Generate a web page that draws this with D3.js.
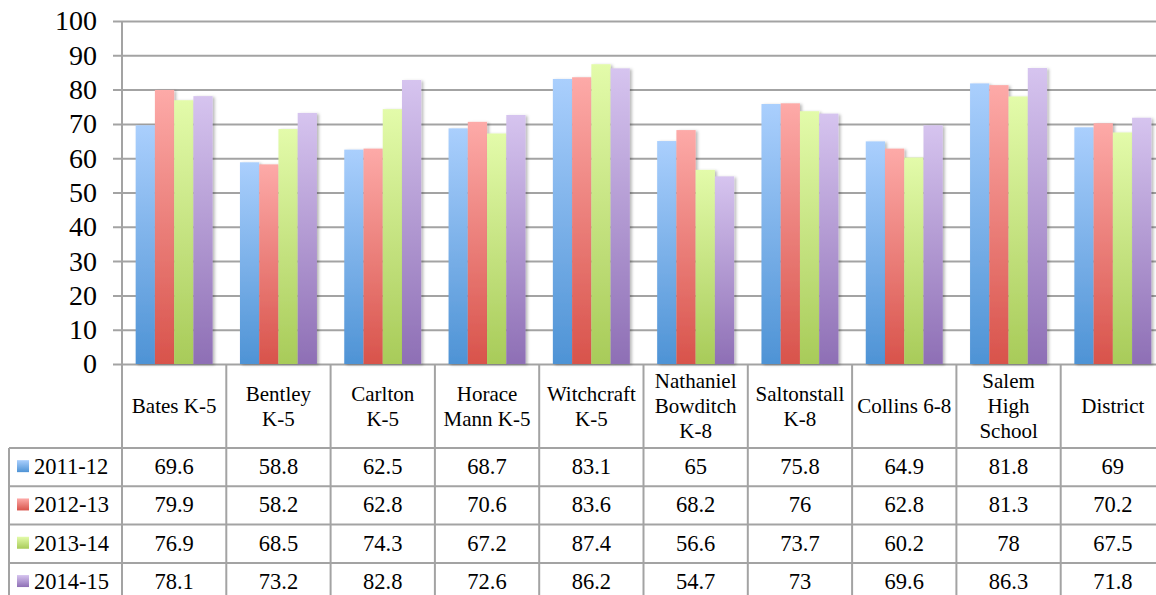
<!DOCTYPE html>
<html>
<head>
<meta charset="utf-8">
<script src="https://cdn.jsdelivr.net/npm/d3@7/dist/d3.min.js"></script>
<style>
  body { margin: 0; background: #fff; }
  svg { display: block; font-family: "Liberation Serif", "DejaVu Serif", serif; }
</style>
</head>
<body>
<div id="chart"></div>
<script>
// schools along the x axis (label lines for the table header)
var categories = ['Bates K-5', 'Bentley K-5', 'Carlton K-5', 'Horace Mann K-5', 'Witchcraft K-5',
  'Nathaniel Bowditch K-8', 'Saltonstall K-8', 'Collins 6-8', 'Salem High School', 'District'];
var categoryLines = [['Bates K-5'], ['Bentley', 'K-5'], ['Carlton', 'K-5'], ['Horace', 'Mann K-5'],
  ['Witchcraft', 'K-5'], ['Nathaniel', 'Bowditch', 'K-8'], ['Saltonstall', 'K-8'], ['Collins 6-8'],
  ['Salem', 'High', 'School'], ['District']];
var seriesNames = ['2011-12', '2012-13', '2013-14', '2014-15'];
var values2011 = [69.6, 58.8, 62.5, 68.7, 83.1, 65, 75.8, 64.9, 81.8, 69];
var values2012 = [79.9, 58.2, 62.8, 70.6, 83.6, 68.2, 76, 62.8, 81.3, 70.2];
var values2013 = [76.9, 68.5, 74.3, 67.2, 87.4, 56.6, 73.7, 60.2, 78, 67.5];
var values2014 = [78.1, 73.2, 82.8, 72.6, 86.2, 54.7, 73, 69.6, 86.3, 71.8];
var yTicks = [0, 10, 20, 30, 40, 50, 60, 70, 80, 90, 100];

var seriesValues = [values2011, values2012, values2013, values2014];
var colorsTop = ['#aacffd', '#fdaaa8', '#e3fbaa', '#d6c4ef'];
var colorsBottom = ['#4e93d5', '#d8534b', '#a8cb59', '#8e6fb5'];

var width = 1156, height = 595;
var plotLeft = 122, plotTop = 21, plotBottom = 364;
var colW = 104.3;
var headerH = 84, rowH = 38.3, tableLeft = 9;
var grid = '#a3a3a3';

var svg = d3.select('#chart').append('svg')
    .attr('width', width)
    .attr('height', height);

var defs = svg.append('defs');
seriesNames.forEach(function(s, i) {
    var g = defs.append('linearGradient')
        .attr('id', 'grad' + i)
        .attr('x1', 0).attr('y1', 0).attr('x2', 0).attr('y2', 1);
    g.append('stop').attr('offset', '0%').attr('stop-color', colorsTop[i]);
    g.append('stop').attr('offset', '100%').attr('stop-color', colorsBottom[i]);
});
defs.append('filter').attr('id', 'shadow')
    .attr('x', '-20%').attr('y', '-5%').attr('width', '160%').attr('height', '115%')
  .append('feDropShadow')
    .attr('dx', 2).attr('dy', 1).attr('stdDeviation', 1.8)
    .attr('flood-color', '#000').attr('flood-opacity', 0.28);

var x = d3.scaleBand()
    .domain(categories)
    .range([plotLeft, plotLeft + colW * categories.length]);
var xs = d3.scaleBand()
    .domain(seriesNames)
    .range([0, x.bandwidth()])
    .paddingOuter(0.71);
var y = d3.scaleLinear()
    .domain([0, 100])
    .range([plotBottom, plotTop]);

// gridlines + ticks
var yAxis = d3.axisLeft(y)
    .tickValues(yTicks)
    .tickSize(-(width - plotLeft + 20))
    .tickFormat(d3.format('d'))
    .tickPadding(25);
var axisG = svg.append('g')
    .attr('transform', 'translate(' + plotLeft + ',0)')
    .call(yAxis);
axisG.select('.domain').remove();
axisG.selectAll('.tick line')
    .attr('x1', -9)
    .attr('stroke', grid)
    .attr('stroke-width', 2);
axisG.selectAll('.tick text')
    .attr('font-size', 28)
    .attr('fill', '#000')
    .style('font-family', '"Liberation Serif", serif');

// bars
seriesNames.forEach(function(s, i) {
    svg.append('g')
        .attr('filter', 'url(#shadow)')
        .selectAll('rect')
        .data(seriesValues[i])
        .enter()
        .append('rect')
        .attr('x', function(d, j) { return x(categories[j]) + xs(s); })
        .attr('y', function(d) { return y(d); })
        .attr('width', xs.bandwidth())
        .attr('height', function(d) { return plotBottom - y(d); })
        .attr('fill', 'url(#grad' + i + ')');
});

// table
var table = svg.append('g');
var tableBottom = plotBottom + headerH + rowH * seriesNames.length;
// vertical lines
table.append('line')
    .attr('x1', plotLeft).attr('x2', plotLeft)
    .attr('y1', plotTop).attr('y2', tableBottom)
    .attr('stroke', grid).attr('stroke-width', 2);
categories.forEach(function(c) {
    var xr = x(c) + x.bandwidth();
    table.append('line')
        .attr('x1', xr).attr('x2', xr)
        .attr('y1', plotBottom).attr('y2', tableBottom)
        .attr('stroke', grid).attr('stroke-width', 2);
});
table.append('line')
    .attr('x1', tableLeft).attr('x2', tableLeft)
    .attr('y1', plotBottom + headerH).attr('y2', tableBottom)
    .attr('stroke', grid).attr('stroke-width', 2);
// horizontal lines
seriesNames.forEach(function(s, i) {
    var yy = plotBottom + headerH + rowH * i;
    table.append('line')
        .attr('x1', tableLeft).attr('x2', width)
        .attr('y1', yy).attr('y2', yy)
        .attr('stroke', grid).attr('stroke-width', 2);
});

// header labels
categoryLines.forEach(function(lines, j) {
    var cx = x(categories[j]) + x.bandwidth() / 2;
    var cy = plotBottom + headerH / 2;
    var lh = 25;
    var t = table.append('text')
        .attr('text-anchor', 'middle')
        .attr('font-size', 21)
        .attr('fill', '#000');
    lines.forEach(function(line, k) {
        t.append('tspan')
            .attr('x', cx)
            .attr('y', cy + (k - (lines.length - 1) / 2) * lh + 7)
            .text(line);
    });
});

// data rows
seriesNames.forEach(function(s, i) {
    var rowY = plotBottom + headerH + rowH * i;
    table.append('rect')
        .attr('x', 17).attr('y', rowY + rowH / 2 - 7)
        .attr('width', 12).attr('height', 12)
        .attr('fill', 'url(#grad' + i + ')');
    table.append('text')
        .attr('x', 34).attr('y', rowY + rowH / 2 + 7)
        .attr('font-size', 22.5)
        .attr('fill', '#000')
        .text(s);
    table.selectAll(null)
        .data(seriesValues[i])
        .enter()
        .append('text')
        .attr('x', function(d, j) { return x(categories[j]) + x.bandwidth() / 2; })
        .attr('y', rowY + rowH / 2 + 7)
        .attr('text-anchor', 'middle')
        .attr('font-size', 22.5)
        .attr('fill', '#000')
        .text(function(d) { return d; });
});
</script>
</body>
</html>
